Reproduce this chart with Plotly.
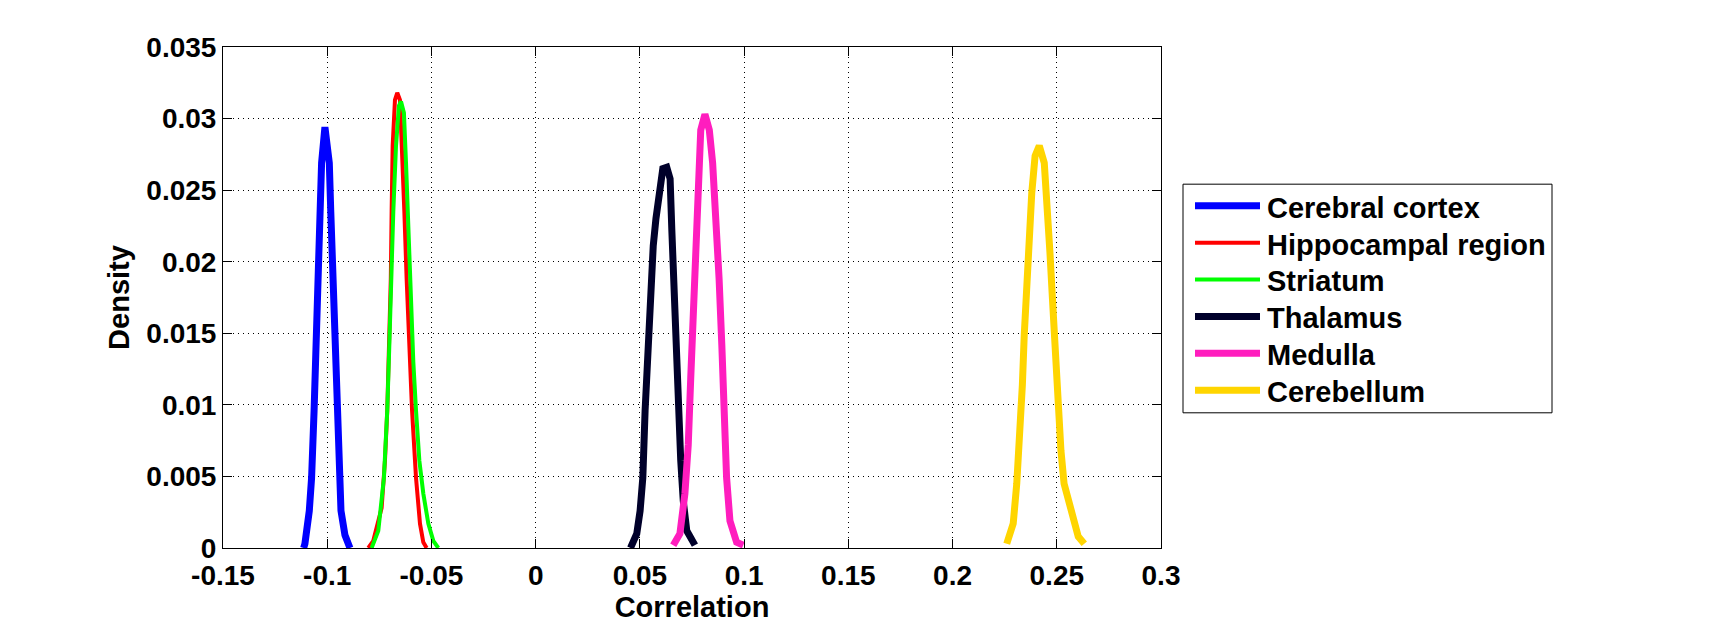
import plotly.graph_objects as go

# ---- data ----
cortex_x = [-0.1113, -0.1107, -0.1086, -0.1075, -0.1063, -0.1054, -0.1046, -0.1035, -0.1027, -0.1011,
            -0.0990, -0.0983, -0.0971, -0.0959, -0.0952, -0.0942, -0.0934, -0.0915, -0.0891]
cortex_y = [0.0, 0.0003, 0.0026, 0.0049, 0.0096, 0.0142, 0.0188, 0.0235, 0.0269, 0.0294,
            0.0269, 0.0235, 0.0188, 0.0142, 0.0096, 0.0049, 0.0026, 0.0009, 0.0]

hippo_x = [-0.0803, -0.0779, -0.0739, -0.0723, -0.0712, -0.0702, -0.0695, -0.0691, -0.0686, -0.0675, -0.0664,
           -0.0651, -0.0641, -0.0630, -0.0619, -0.0608, -0.0593, -0.0574, -0.0555, -0.0539, -0.0523]
hippo_y = [0.0, 0.0005, 0.0028, 0.0061, 0.0096, 0.0142, 0.0188, 0.0235, 0.0281, 0.0313, 0.0318,
           0.0313, 0.0281, 0.0235, 0.0188, 0.0142, 0.0096, 0.0049, 0.0017, 0.0004, 0.0]

stria_x = [-0.0787, -0.0755, -0.0728, -0.0712, -0.0702, -0.0694, -0.0683, -0.0670, -0.0656, -0.0646,
           -0.0632, -0.0622, -0.0611, -0.0600, -0.0587, -0.0574, -0.0558, -0.0539, -0.0515, -0.0491, -0.0467]
stria_y = [0.0, 0.0012, 0.0049, 0.0096, 0.0142, 0.0188, 0.0235, 0.0281, 0.0309, 0.0312,
           0.0304, 0.0269, 0.0223, 0.0177, 0.0130, 0.0096, 0.0061, 0.0038, 0.0017, 0.0005, 0.0]

thal_x = [0.0455, 0.0461, 0.0485, 0.0501, 0.0514, 0.0525, 0.0538, 0.0549, 0.0564, 0.0577, 0.0593, 0.0610, 0.0629,
          0.0645, 0.0653, 0.0664, 0.0673, 0.0684, 0.0696, 0.0708, 0.0725, 0.0764]
thal_y = [0.0, 0.0002, 0.0010, 0.0026, 0.0049, 0.0096, 0.0142, 0.0177, 0.0211, 0.0230, 0.0248, 0.0265, 0.0266,
          0.0258, 0.0223, 0.0177, 0.0142, 0.0096, 0.0061, 0.0033, 0.0012, 0.0002]

med_x = [0.0660, 0.0692, 0.0716, 0.0732, 0.0744, 0.0756, 0.0769, 0.0780, 0.0792, 0.0812,
         0.0833, 0.0849, 0.0865, 0.0880, 0.0893, 0.0904, 0.0916, 0.0932, 0.0964, 0.0996]
med_y = [0.0002, 0.0010, 0.0038, 0.0072, 0.0119, 0.0165, 0.0211, 0.0258, 0.0292, 0.0303,
         0.0292, 0.0269, 0.0235, 0.0188, 0.0142, 0.0096, 0.0049, 0.0019, 0.0004, 0.0002]

cereb_x = [0.2260, 0.2291, 0.2308, 0.2324, 0.2335, 0.2344, 0.2356, 0.2368, 0.2380, 0.2396, 0.2416,
           0.2440, 0.2454, 0.2467, 0.2480, 0.2492, 0.2507, 0.2520, 0.2535, 0.2555, 0.2579, 0.2603, 0.2632]
cereb_y = [0.0003, 0.0017, 0.0045, 0.0079, 0.0114, 0.0149, 0.0184, 0.0218, 0.0248, 0.0274, 0.0281,
           0.0269, 0.0241, 0.0207, 0.0172, 0.0137, 0.0103, 0.0068, 0.0045, 0.0033, 0.0019, 0.0008, 0.0003]

names = ["Cerebral cortex", "Hippocampal region", "Striatum", "Thalamus", "Medulla", "Cerebellum"]
xs = [cortex_x, hippo_x, stria_x, thal_x, med_x, cereb_x]
ys = [cortex_y, hippo_y, stria_y, thal_y, med_y, cereb_y]
colors = ["#0000FF", "#FF0000", "#00FF00", "#00002A", "#FF1DBE", "#FFD500"]
widths = [7, 4, 4, 7, 7, 7]

x_ticks = [-0.15, -0.1, -0.05, 0, 0.05, 0.1, 0.15, 0.2, 0.25, 0.3]
x_ticklabels = ["-0.15", "-0.1", "-0.05", "0", "0.05", "0.1", "0.15", "0.2", "0.25", "0.3"]
y_ticks = [0, 0.005, 0.01, 0.015, 0.02, 0.025, 0.03, 0.035]
y_ticklabels = ["0", "0.005", "0.01", "0.015", "0.02", "0.025", "0.03", "0.035"]

FONT = "Liberation Sans, Arial, sans-serif"

# plot area in page pixels (page has an 8px body margin)
PX0, PX1, PY0, PY1 = 223, 1161, 47, 551


def px2paper_x(X):
    return (X - PX0) / (PX1 - PX0)


def px2paper_y(Y):
    return (PY1 - Y) / (PY1 - PY0)


fig = go.Figure()
for n, x, y, c, w in zip(names, xs, ys, colors, widths):
    fig.add_trace(go.Scatter(x=x, y=y, mode="lines", name=n, showlegend=False,
                             line=dict(color=c, width=w)))

axis_common = dict(
    showline=True, linecolor="black", linewidth=1, mirror="ticks",
    ticks="inside", ticklen=9, tickcolor="black", tickwidth=1,
    showgrid=True, gridcolor="black", gridwidth=1, griddash="1px,4px",
    zeroline=False,
    tickfont=dict(family=FONT, size=28, color="black", weight="bold"),
)

fig.update_xaxes(range=[-0.15, 0.3], tickvals=x_ticks, ticktext=x_ticklabels,
                 ticklabelstandoff=2,
                 title=dict(text="Correlation", font=dict(family=FONT, size=29, color="black", weight="bold"),
                            standoff=2),
                 **axis_common)
fig.update_yaxes(range=[0, 0.035], tickvals=y_ticks, ticktext=y_ticklabels,
                 title=dict(text="Density", font=dict(family=FONT, size=29, color="black", weight="bold"),
                            standoff=8),
                 **axis_common)

# ---- manual legend (box, line samples, labels) ----
shapes = [dict(type="rect", xref="paper", yref="paper",
               x0=px2paper_x(1183), x1=px2paper_x(1552), y0=px2paper_y(415), y1=px2paper_y(185),
               line=dict(color="black", width=1), fillcolor="white", layer="above")]
annotations = []
row0, row_gap = 206.7, 37.1
for i, (n, c, w) in enumerate(zip(names, colors, widths)):
    yr = row0 + i * row_gap
    shapes.append(dict(type="line", xref="paper", yref="paper",
                       x0=px2paper_x(1195), x1=px2paper_x(1260), y0=px2paper_y(yr), y1=px2paper_y(yr),
                       line=dict(color=c, width=w), layer="above"))
    annotations.append(dict(xref="paper", yref="paper", x=px2paper_x(1265), y=px2paper_y(yr + 2),
                            xanchor="left", yanchor="middle", text=n, showarrow=False,
                            font=dict(family=FONT, size=29, color="black", weight="bold")))

fig.update_layout(
    width=1711, height=617,
    margin=dict(l=215, r=558, t=39, b=74),
    paper_bgcolor="white", plot_bgcolor="white",
    showlegend=False,
    shapes=shapes, annotations=annotations,
)

fig.write_html("out.html")
